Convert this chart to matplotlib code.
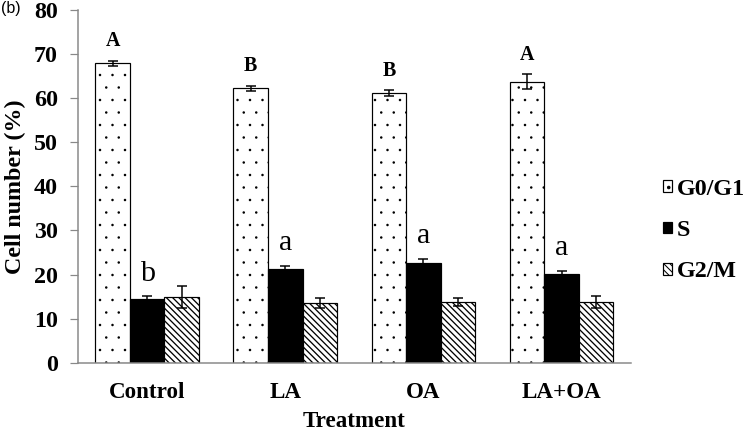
import matplotlib
matplotlib.use("Agg")
import matplotlib.pyplot as plt
import numpy as np
from matplotlib.patches import Patch

categories = ["Control", "LA", "OA", "LA+OA"]
series_names = ["G0/G1", "S", "G2/M"]
g0g1 = [67.9, 62.2, 61.1, 63.7]
g0g1_err = [0.6, 0.6, 0.7, 1.7]
s_phase = [14.4, 21.3, 22.7, 20.1]
s_err = [0.7, 0.7, 0.9, 0.7]
g2m = [15.0, 13.5, 13.8, 13.8]
g2m_err = [2.5, 1.1, 1.0, 1.4]
upper_letters = ["A", "B", "B", "A"]
lower_letters = ["b", "a", "a", "a"]
yticks = [0, 10, 20, 30, 40, 50, 60, 70, 80]

DPI = 75
def px(v):
    return v * 72.0 / DPI

serif = ['Liberation Serif', 'DejaVu Serif']

fig = plt.figure(figsize=(750 / DPI, 435 / DPI), dpi=DPI)
ax = fig.add_axes([0.104, 0.166, 0.737, 0.811])

x = np.arange(len(categories))
w = 0.25
styles = [dict(facecolor='white', hatch='.', hlw=0.0),
          dict(facecolor='black', hatch=None, hlw=1.0),
          dict(facecolor='white', hatch='\\\\\\\\', hlw=1.3)]
data = [(g0g1, g0g1_err), (s_phase, s_err), (g2m, g2m_err)]

def set_hlw(artist, v):
    if hasattr(artist, 'set_hatch_linewidth'):
        artist.set_hatch_linewidth(v)

for i, ((vals, errs), st) in enumerate(zip(data, styles)):
    pos = x + (i - 1) * w
    with plt.rc_context({'hatch.linewidth': px(st['hlw'])}):
        bars = ax.bar(pos, vals, width=w, color=st['facecolor'], edgecolor='black',
                      linewidth=px(1.2), hatch=st['hatch'], label=series_names[i], zorder=2)
    for b in bars:
        set_hlw(b, px(st['hlw']))
    ax.errorbar(pos, vals, yerr=errs, fmt='none', ecolor='black',
                elinewidth=px(1.5), capsize=px(5), capthick=px(1.5), zorder=3)

for i in range(len(categories)):
    ax.text(x[i] - w, g0g1[i] + g0g1_err[i] + 2.2, upper_letters[i],
            ha='center', va='bottom', fontsize=px(20), fontweight='bold', family=serif)
    ax.text(x[i], s_phase[i] + s_err[i] + 2.2, lower_letters[i],
            ha='center', va='bottom', fontsize=px(30), family=serif)

ax.set_xlim(-0.5, len(categories) - 0.5)
ax.set_ylim(0, 80)
ax.set_yticks(yticks)
ax.set_yticklabels([str(t) for t in yticks], fontsize=px(24), fontweight='bold', family=serif)
ax.set_xticks(x)
ax.set_xticklabels(categories, fontsize=px(23), fontweight='bold', family=serif)
ax.tick_params(axis='x', length=0, pad=px(19))
ax.tick_params(axis='y', length=px(8), color='#888888', width=px(1.2), pad=px(12))
for s in ['top', 'right']:
    ax.spines[s].set_visible(False)
for s in ['left', 'bottom']:
    ax.spines[s].set_color('#888888')
    ax.spines[s].set_linewidth(px(1.5))

ax.set_ylabel("Cell number (%)", fontsize=px(24), fontweight='bold', family=serif, labelpad=px(8))
ax.set_xlabel("Treatment", fontsize=px(23), fontweight='bold', family=serif, labelpad=px(8))

handles = []
for st, n in zip(styles, series_names):
    with plt.rc_context({'hatch.linewidth': px(st['hlw'])}):
        p = Patch(facecolor=st['facecolor'], edgecolor='black', hatch=st['hatch'],
                  linewidth=px(1.2), label=n)
    set_hlw(p, px(st['hlw']))
    handles.append(p)
leg = fig.legend(handles=handles, loc='center left', bbox_to_anchor=(0.884, 0.47),
                 frameon=False, prop={'family': serif, 'weight': 'bold', 'size': px(24)},
                 handlelength=0.38, handleheight=0.38, handletextpad=0.2, labelspacing=0.85,
                 borderpad=0, borderaxespad=0)

fig.text(0.002, 0.997, "(b)", ha='left', va='top', fontsize=px(16),
         family=['Liberation Sans', 'DejaVu Sans'])

fig.savefig("out.png", dpi=DPI)
